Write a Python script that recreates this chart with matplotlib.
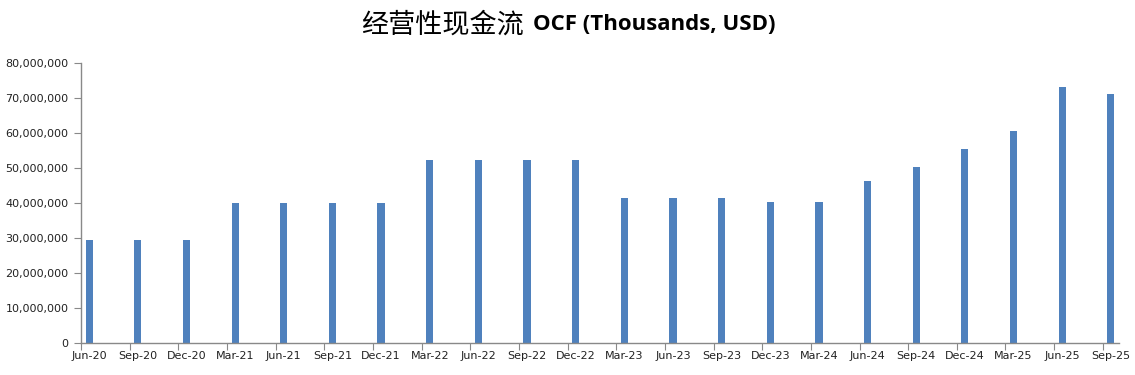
import matplotlib
matplotlib.use("Agg")
import matplotlib.pyplot as plt
from matplotlib.ticker import FuncFormatter, FixedLocator

# trimestres (étiquettes de l'axe des abscisses)
quarters = ['Jun-20', 'Sep-20', 'Dec-20', 'Mar-21', 'Jun-21', 'Sep-21', 'Dec-21',
            'Mar-22', 'Jun-22', 'Sep-22', 'Dec-22', 'Mar-23', 'Jun-23', 'Sep-23',
            'Dec-23', 'Mar-24', 'Jun-24', 'Sep-24', 'Dec-24', 'Mar-25', 'Jun-25', 'Sep-25']
# flux de trésorerie d'exploitation (milliers USD)
ocf = [29300000, 29300000, 29300000, 40000000, 40000000, 40000000, 40000000,
       52200000, 52200000, 52200000, 52200000, 41400000, 41400000, 41400000,
       40200000, 40200000, 46200000, 50300000, 55400000, 60500000, 73100000, 71000000]
y_ticks = [0, 10000000, 20000000, 30000000, 40000000, 50000000, 60000000, 70000000, 80000000]

blue = '#4f81bd'
grey = '#898989'

fig = plt.figure(figsize=(11.35, 3.75), dpi=100)
ax = fig.add_axes([81/1135, 1 - 343/375, (1119 - 81)/1135, (343 - 62.7)/375])

# axe "date" façon Excel : un mois par unité, un trimestre tous les 3 mois
months = [3 * i for i in range(len(quarters))]
centers = [m + 0.5 for m in months]
ax.bar(centers, ocf, width=0.44, color=blue, zorder=2)

ax.set_xlim(0, 3 * len(quarters) - 2)
ax.set_ylim(0, 80000000)

ax.xaxis.set_major_locator(FixedLocator(months))
ax.xaxis.set_minor_locator(FixedLocator(centers))
ax.xaxis.set_major_formatter(FuncFormatter(lambda v, p: ''))
ax.set_xticklabels(quarters, minor=True)
ax.tick_params(axis='x', which='major', length=5, color=grey, direction='out')
ax.tick_params(axis='x', which='minor', length=0, pad=6, labelsize=8, labelcolor='#222222')

ax.set_yticks(y_ticks)
ax.yaxis.set_major_formatter(FuncFormatter(lambda v, p: f'{int(v):,}'))
ax.tick_params(axis='y', length=5, color=grey, direction='out', labelsize=8,
               labelcolor='#222222', pad=4)

for s in ['top', 'right']:
    ax.spines[s].set_visible(False)
for s in ['left', 'bottom']:
    ax.spines[s].set_color(grey)
    ax.spines[s].set_linewidth(1)

# titre : partie chinoise + partie anglaise en gras
fig.text(524/1135, 1 - 25/375, '经营性现金流', family=['Noto Sans CJK SC', 'DejaVu Sans'],
         fontsize=19.5, ha='right', va='center', color='black')
fig.text(533/1135, 1 - 25/375, 'OCF (Thousands, USD)', family='Open Sans', fontweight='bold',
         fontsize=16, ha='left', va='center', color='black')

fig.savefig('out.png', dpi=100)
